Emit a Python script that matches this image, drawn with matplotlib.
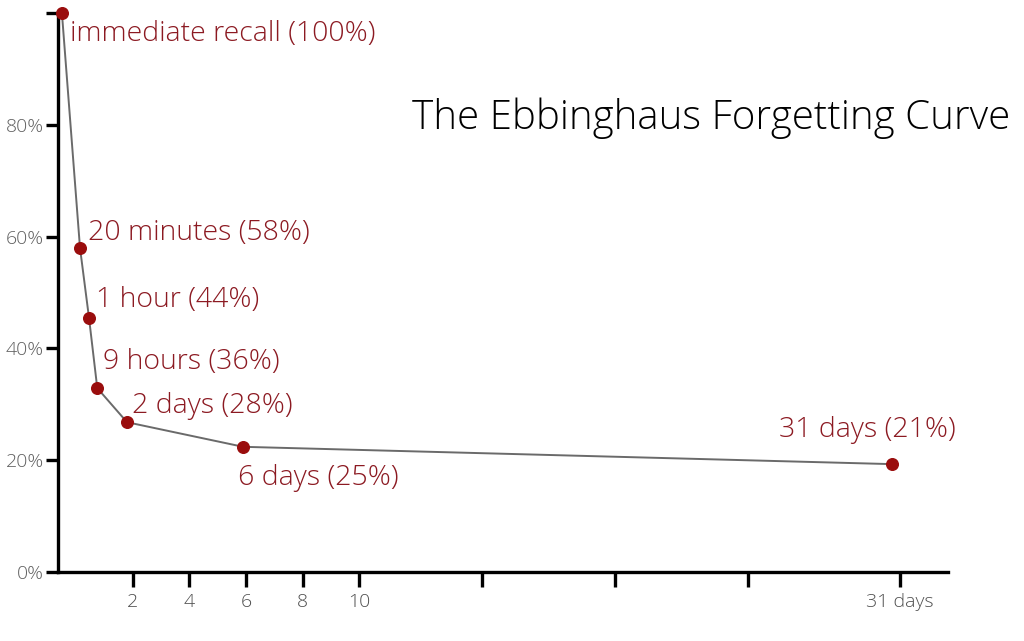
"""
Ebbinghaus forgetting curve, hand-drawn look.
The day axis is drawn compressed after 10 days, like the original sketch.
"""

import numpy as np
import matplotlib
matplotlib.use("Agg")
import matplotlib.pyplot as plt

# ── data ────────────────────────────────────────────────────────────────────
point_labels = ["immediate recall (100%)", "20 minutes (58%)", "1 hour (44%)",
                "9 hours (36%)", "2 days (28%)", "6 days (25%)", "31 days (21%)"]
point_days   = [-0.5, 0.14, 0.46, 0.75, 1.8, 5.9, 30.7]   # as drawn on the axis
point_recall = [100, 58.0, 45.4, 32.9, 26.8, 22.4, 19.3]

x_ticks       = [2, 4, 6, 8, 10, 15, 20, 25, 31]
x_tick_labels = ["2", "4", "6", "8", "10", "", "", "", "31 days"]
y_ticks       = [0, 20, 40, 60, 80, 100]
y_tick_labels = ["0%", "20%", "40%", "60%", "80%", ""]

# axis warp: day value -> drawn distance (the sketch squeezes the tail)
warp_days = [-5, 0, 10, 15, 20, 25, 31, 40]
warp_dist = [-141, 0, 283, 406, 538, 671, 823, 1051]
# ────────────────────────────────────────────────────────────────────────────

RED  = "#8c1a22"
HAND = ["Open Sans", "DejaVu Sans"]


def fwd(x):
    return np.interp(x, warp_days, warp_dist)


def inv(x):
    return np.interp(x, warp_dist, warp_days)


fig = plt.figure(figsize=(10.24, 6.41), dpi=100)
ax = fig.add_axes([0.0566, 0.1076, 0.8692, 0.8721])
ax.set_xscale("function", functions=(fwd, inv))
ax.set_xlim(-0.64, 32.9)
ax.set_ylim(0, 100)

ax.plot(point_days, point_recall, color="#6a6a6a", lw=1.4, zorder=2, clip_on=False)
ax.scatter(point_days, point_recall, s=70, color="#9a0d0d", zorder=3, clip_on=False)

# label offsets in pixels (dx, dy), alignment
offsets = [(8, -21, "left"), (8, 15, "left"), (7, 18, "left"), (6, 26, "left"),
           (5, 16, "left"), (-5, -31, "left"), (-25, 34, "center")]
for lab, x, y, (dx, dy, ha) in zip(point_labels, point_days, point_recall, offsets):
    ax.annotate(lab, (x, y), xytext=(dx, dy), textcoords="offset pixels",
                ha=ha, va="center", color=RED, fontsize=20.5, family=HAND,
                fontweight="light")

fig.text(0.694, 0.815, "The Ebbinghaus Forgetting Curve", ha="center", va="center",
         fontsize=29, color="black", family=HAND, fontweight="light")

for side in ("top", "right"):
    ax.spines[side].set_visible(False)
for side in ("left", "bottom"):
    ax.spines[side].set_linewidth(2.4)

ax.set_xticks(x_ticks)
ax.set_xticklabels(x_tick_labels)
ax.set_yticks(y_ticks)
ax.set_yticklabels(y_tick_labels)
ax.minorticks_off()
ax.tick_params(axis="x", length=11, width=2.4, pad=4, labelsize=14, labelcolor="#505050")
ax.tick_params(axis="y", length=9, width=2.4, pad=1, labelsize=14, labelcolor="#606060")
for t in ax.get_xticklabels() + ax.get_yticklabels():
    t.set_family(["Open Sans", "DejaVu Sans"])
    t.set_fontweight("light")

fig.savefig("out.png", dpi=100)
plt.close(fig)
